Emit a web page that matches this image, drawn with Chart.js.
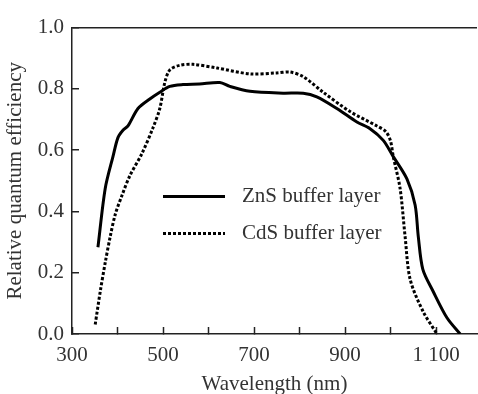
<!DOCTYPE html>
<html>
<head>
<meta charset="utf-8">
<script src="https://cdn.jsdelivr.net/npm/chart.js@4"></script>
<style>
  html, body { margin: 0; padding: 0; background: #fff; }
  #wrap { width: 478px; height: 394px; }
</style>
</head>
<body>
<div id="wrap"><canvas id="myChart" width="478" height="394"></canvas></div>
<script>
// values
const znsWavelength = [357, 373, 390, 401, 412, 423, 445, 471, 493, 515, 544, 580, 625, 647, 691, 764, 808, 838, 882, 926, 955, 984, 1006, 1036, 1054, 1061, 1071, 1094, 1124, 1153]
const znsQe = [0.283, 0.475, 0.579, 0.641, 0.665, 0.679, 0.736, 0.767, 0.789, 0.808, 0.814, 0.816, 0.821, 0.808, 0.792, 0.786, 0.786, 0.774, 0.736, 0.692, 0.670, 0.632, 0.579, 0.506, 0.421, 0.318, 0.211, 0.138, 0.053, 0.0]

const cdsWavelength = [351, 362, 373, 384, 395, 410, 427, 454, 478, 493, 504, 515, 537, 566, 619, 691, 750, 779, 808, 852, 911, 970, 990, 1000, 1006, 1021, 1032, 1043, 1071, 1102]
const cdsQe = [0.031, 0.138, 0.233, 0.318, 0.390, 0.453, 0.516, 0.590, 0.673, 0.736, 0.821, 0.862, 0.877, 0.880, 0.868, 0.849, 0.852, 0.855, 0.840, 0.789, 0.726, 0.679, 0.660, 0.630, 0.579, 0.475, 0.318, 0.179, 0.075, 0.0]

const seriesNames = ['ZnS buffer layer', 'CdS buffer layer']
const xTickValues = [300, 400, 500, 600, 700, 800, 900, 1000, 1100]
const xLabeled = [300, 500, 700, 900, 1100]
const yTickValues = [0, 0.2, 0.4, 0.6, 0.8, 1.0]

const serif = '"Liberation Serif", "Times New Roman", serif'
const ink = '#333'
const fontSize = 21

const toPoints = (xs, ys) => xs.map((x, i) => ({ x: x, y: ys[i] }))

const xLabel = v => {
    const r = Math.round(v)
    if (!xLabeled.includes(r)) return ''
    return r >= 1000 ? String(r).replace(/^(\d)/, '$1 ') : String(r)
}

// legend drawn inside the plot, like the figure
const innerLegend = {
    id: 'innerLegend',
    afterDatasetsDraw(chart) {
        const c = chart.ctx
        const a = chart.chartArea
        c.save()
        chart.data.datasets.forEach((ds, i) => {
            const y = a.top + 169 + i * 37
            c.beginPath()
            c.lineWidth = ds.borderWidth
            c.strokeStyle = ds.borderColor
            c.setLineDash(ds.borderDash || [])
            c.moveTo(a.left + 91, y)
            c.lineTo(a.left + 153, y)
            c.stroke()
            c.setLineDash([])
            c.fillStyle = ink
            c.font = fontSize + 'px ' + serif
            c.textBaseline = 'middle'
            c.fillText(ds.label, a.left + 170, y)
        })
        c.restore()
    }
}

const ctx = document.getElementById('myChart')

const chart = new Chart(ctx, {
    type: 'line',
    data: {
        datasets: [
            {
                label: seriesNames[0],
                data: toPoints(znsWavelength, znsQe),
                borderColor: '#000',
                borderWidth: 3,
                pointRadius: 0,
                tension: 0.3,
                fill: false
            },
            {
                label: seriesNames[1],
                data: toPoints(cdsWavelength, cdsQe),
                borderColor: '#000',
                borderWidth: 3,
                borderDash: [3, 2],
                pointRadius: 0,
                tension: 0.3,
                fill: false
            }
        ]
    },
    options: {
        responsive: false,
        animation: false,
        layout: { padding: { top: 16, right: 1, left: 0, bottom: 0 } },
        plugins: {
            legend: { display: false },
            tooltip: { enabled: false }
        },
        scales: {
            x: {
                type: 'linear',
                min: 300,
                max: 1190,
                afterBuildTicks: s => { s.ticks = xTickValues.map(v => ({ value: v })) },
                afterFit: s => {
                    s.height = 60
                    s.paddingLeft = 0
                    s.paddingRight = 0
                },
                border: { color: '#222', width: 1.5 },
                grid: { drawOnChartArea: false, tickLength: -7, tickColor: '#222', tickWidth: 1.5 },
                ticks: {
                    autoSkip: false,
                    maxRotation: 0,
                    minRotation: 0,
                    padding: 16,
                    color: ink,
                    font: { family: serif, size: fontSize },
                    callback: xLabel
                },
                title: {
                    display: true,
                    text: 'Wavelength (nm)',
                    color: ink,
                    font: { family: serif, size: fontSize },
                    padding: { top: 0, bottom: -3 }
                }
            },
            y: {
                min: 0,
                max: 1,
                afterBuildTicks: s => { s.ticks = yTickValues.map(v => ({ value: v })) },
                afterFit: s => { s.width = 72 },
                border: { color: '#222', width: 1.5 },
                grid: {
                    drawOnChartArea: true,
                    color: c => Math.abs(c.tick.value - 1) < 1e-6 ? '#222' : 'rgba(0,0,0,0)',
                    lineWidth: 1.5,
                    tickLength: -7,
                    tickColor: '#222',
                    tickWidth: 1.5
                },
                ticks: {
                    padding: 15,
                    color: ink,
                    font: { family: serif, size: fontSize },
                    callback: v => v.toFixed(1)
                },
                title: {
                    display: true,
                    text: 'Relative quantum efficiency',
                    color: ink,
                    font: { family: serif, size: fontSize },
                    padding: { top: 3, bottom: 0 }
                }
            }
        }
    },
    plugins: [innerLegend]
})
</script>
</body>
</html>
